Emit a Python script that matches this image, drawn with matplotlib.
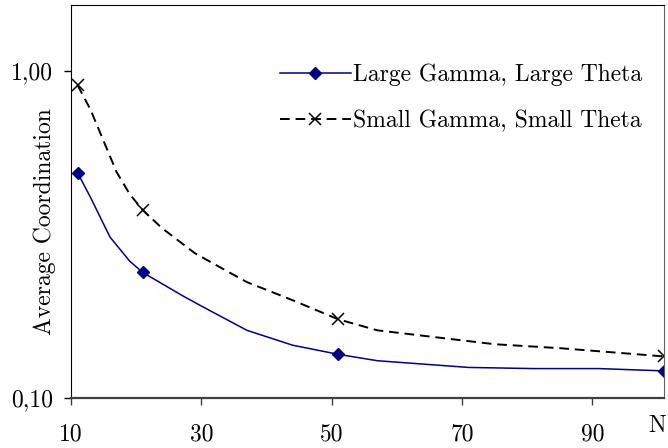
import matplotlib
matplotlib.use("Agg")
import matplotlib.pyplot as plt

# N values along each curve, with the average coordination read per point
n_large = [11, 13, 15, 16, 19, 21, 27, 30, 37, 44, 51, 57, 71, 81, 91, 101]
large_gamma = [0.488, 0.41, 0.34, 0.31, 0.262, 0.242, 0.206, 0.191, 0.161,
               0.145, 0.136, 0.130, 0.124, 0.123, 0.123, 0.121]

n_small = [11, 13, 15, 17, 19, 21, 24, 29, 33, 37, 44, 51, 57, 75, 85, 101]
small_gamma = [0.904, 0.76, 0.61, 0.49, 0.42, 0.375, 0.33, 0.277, 0.25,
               0.226, 0.199, 0.174, 0.161, 0.146, 0.142, 0.134]

# points that carry a marker (N = 11, 21, 51, 101)
marked_large = [0, 5, 10, 15]
marked_small = [0, 5, 11, 15]

x_ticks = [10, 30, 50, 70, 90]
y_ticks = [0.10, 1.00]
y_tick_labels = ['0,10', '1,00']

plt.rcParams['font.family'] = ['cmr10', 'DejaVu Serif']
plt.rcParams['axes.unicode_minus'] = False

fig = plt.figure(figsize=(6.68, 4.48), dpi=100)
ax = fig.add_axes([0.1063, 0.1116, 0.8877, 0.8772])

ax.plot(n_large, large_gamma, color='#000080', lw=1.1, marker='D', ms=6.5,
        markevery=marked_large, label='Large Gamma, Large Theta')
ax.plot(n_small, small_gamma, color='black', lw=1.4, ls=(0, (5, 3)),
        marker='x', ms=8.5, mew=1.1, markevery=marked_small,
        label='Small Gamma, Small Theta')

ax.set_yscale('log')
ax.set_xlim(10, 101)
ax.set_ylim(0.1, 1.588)
ax.set_xticks(x_ticks)
ax.set_xticklabels([str(v) for v in x_ticks])
ax.set_yticks(y_ticks)
ax.set_yticklabels(y_tick_labels)
ax.yaxis.set_minor_locator(matplotlib.ticker.NullLocator())

ax.tick_params(axis='both', direction='out', length=5, width=1,
               labelsize=17, colors='black')
ax.tick_params(axis='x', pad=13, color='#404040')
ax.tick_params(axis='y', pad=8)

ax.spines['left'].set_color('black')
ax.spines['top'].set_color('black')
ax.spines['bottom'].set_color('#404040')
ax.spines['bottom'].set_linewidth(1.6)
ax.spines['right'].set_color('#606060')

ax.set_ylabel('Average Coordination', fontsize=17)
ax.yaxis.set_label_coords(-0.025, 0.448)
ax.text(0.988, -0.07, 'N', transform=ax.transAxes, fontsize=17,
        ha='center', va='center')

ax.legend(loc='upper left', bbox_to_anchor=(0.352, 0.85), frameon=False,
          fontsize=17, handlelength=3.0, handletextpad=0.1, labelspacing=0.98,
          borderaxespad=0, borderpad=0)

fig.savefig('out.png', dpi=100)
